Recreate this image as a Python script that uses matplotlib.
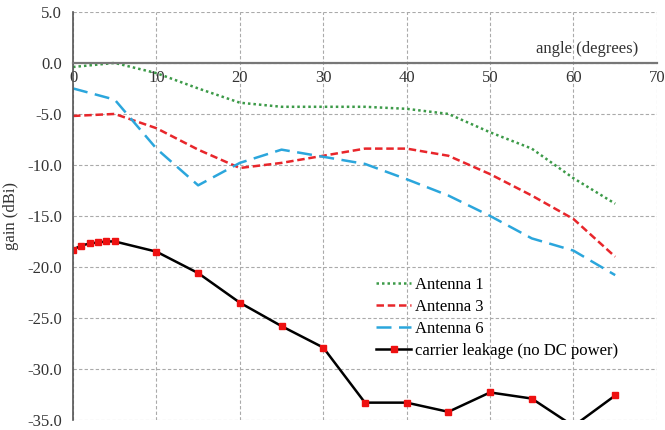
import matplotlib
matplotlib.use("Agg")
from matplotlib import pyplot as plt
import numpy as np

plt.rcParams['font.family'] = ['Liberation Serif', 'DejaVu Serif']

angle = [0, 5, 10, 15, 20, 25, 30, 35, 40, 45, 50, 55, 60, 65]
antenna1 = [-0.4, 0.0, -1.0, -2.5, -3.9, -4.3, -4.3, -4.3, -4.5, -5.0, -6.8, -8.4, -11.3, -13.8]
antenna3 = [-5.2, -5.0, -6.4, -8.5, -10.3, -9.8, -9.1, -8.4, -8.4, -9.1, -10.9, -13.0, -15.3, -19.0]
antenna6 = [-2.5, -3.6, -8.4, -12.0, -9.8, -8.5, -9.2, -9.9, -11.4, -13.0, -15.0, -17.2, -18.4, -20.8]

leak_angle = [0, 1, 2, 3, 4, 5, 10, 15, 20, 25, 30, 35, 40, 45, 50, 55, 60, 65]
leakage = [-18.3, -17.9, -17.7, -17.6, -17.5, -17.5, -18.5, -20.6, -23.5, -25.8, -27.9,
           -33.3, -33.3, -34.2, -32.3, -32.9, -35.6, -32.6]

xticks = [0, 10, 20, 30, 40, 50, 60, 70]
yticks = [5, 0, -5, -10, -15, -20, -25, -30, -35]

fig = plt.figure(figsize=(6.65, 4.30), dpi=100)
ax = fig.add_axes([0.1098, 0.0233, 0.878, 0.949])

ax.plot(angle, antenna1, color="#3c9a48", linewidth=1.8, linestyle=(0, (1, 1.2)), label="Antenna 1")
ax.plot(angle, antenna3, color="#e8262b", linewidth=1.8, linestyle=(0, (3, 1.5)), label="Antenna 3")
ax.plot(angle, antenna6, color="#2ba6dc", linewidth=1.8, linestyle=(0, (6, 3)), label="Antenna 6")
ax.plot(leak_angle, leakage, color="black", linewidth=1.8, marker="s", markersize=5,
        markerfacecolor="#ee1111", markeredgecolor="#ee1111", label="carrier leakage (no DC power)")

ax.set_xlim(0, 70)
ax.set_ylim(-35, 5)
ax.set_xticks(xticks)
ax.set_yticks(yticks)
ax.set_yticklabels(["%.1f" % v for v in yticks])
ax.tick_params(length=0, labelsize=12, colors="#333333")
ax.tick_params(axis="x", pad=5)
ax.tick_params(axis="y", pad=8)

ax.grid(True, color="#aaaaaa", linestyle=(0, (3, 2)), linewidth=0.8)
ax.set_axisbelow(True)

for s in ["top", "right"]:
    ax.spines[s].set_visible(False)
ax.spines["bottom"].set_position(("data", 0))
ax.spines["bottom"].set_color("#777777")
ax.spines["bottom"].set_linewidth(1.6)
ax.spines["left"].set_color("#555555")
ax.spines["left"].set_linewidth(1.2)

ax.text(67.8, 0.6, "angle (degrees)", ha="right", va="bottom", fontsize=12, color="#333333")
ax.set_ylabel("gain (dBi)", fontsize=12, color="#333333")
ax.yaxis.set_label_coords(-0.092, 0.5)

ax.legend(loc="upper left", bbox_to_anchor=(0.505, 0.37), frameon=False, fontsize=12,
          handlelength=2.1, handletextpad=0.2, labelspacing=0.35, borderpad=0)

fig.savefig("out.png", dpi=100)
